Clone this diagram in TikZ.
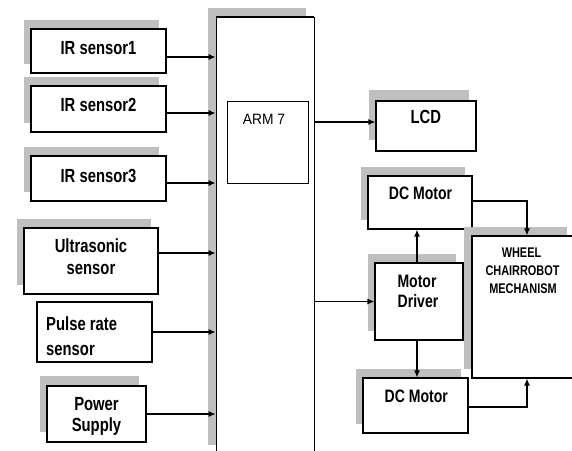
\documentclass[tikz,border=0pt]{standalone}
\usepackage{fontspec}
\setmainfont{Liberation Sans}[FakeStretch=0.78]
\newfontfamily\armfont{Liberation Sans}[FakeStretch=0.92]
\usetikzlibrary{arrows.meta,shadows}
\begin{document}
\begin{tikzpicture}[x=1pt,y=-1pt,
  box/.style={draw=black, line width=1.1pt, fill=white, rectangle, inner sep=0pt},
  shbox/.style={box, general shadow={fill=black!25, draw=none, shadow xshift=-7pt, shadow yshift=9pt}},
  lbl/.style={font=\bfseries\fontsize{19}{21}\selectfont, anchor=base, inner sep=0pt},
  mlbl/.style={font=\bfseries\fontsize{18}{20}\selectfont, anchor=base, inner sep=0pt},
  slbl/.style={font=\bfseries\fontsize{14}{16}\selectfont, anchor=base, inner sep=0pt},
  arr/.style={-{Latex[length=7pt,width=6pt]}, line width=1.2pt}]
\clip (0,0) rectangle (572,450);
\fill[white] (0,0) rectangle (572,450);

% central bar
\node[box, line width=0.8pt, general shadow={fill=black!25, draw=none, shadow xshift=-8pt, shadow yshift=9pt},
  minimum width=98pt, minimum height=437pt] (bar) at (265,235.5) {};
\draw[line width=1.6pt] (bar.north west) -- (bar.north east);
\node[box, line width=0.6pt, minimum width=81pt, minimum height=82pt] (arm) at (267.5,142) {};
\node[font=\armfont\fontsize{15}{17}\selectfont, anchor=base, inner sep=0pt] (armt) at (264,124) {ARM 7};

% sensors
\node[shbox, minimum width=135pt, minimum height=44pt] (ir1) at (98.5,51) {};
\node[shbox, minimum width=135pt, minimum height=46pt] (ir2) at (98.5,109) {};
\node[shbox, minimum width=135pt, minimum height=45pt] (ir3) at (98.5,178.5) {};
\node[shbox, minimum width=134pt, minimum height=66pt] (ultra) at (91,261) {};
\node[box, minimum width=115pt, minimum height=60pt] (pulse) at (94.5,332) {};
\node[box, general shadow={fill=black!25, draw=none, shadow xshift=-7pt, shadow yshift=10pt},
  minimum width=99pt, minimum height=56pt] (power) at (96.5,414) {};

\node[lbl] (t1) at (98.5,54.3) {IR sensor1};
\node[lbl] (t2) at (98.5,111) {IR sensor2};
\node[lbl] (t3) at (98.5,182) {IR sensor3};
\node[lbl] (tu1) at (91,252) {Ultrasonic};
\node[lbl] (tu2) at (91,274) {sensor};
\node[lbl, anchor=base west] (tp1) at (46,330) {Pulse rate};
\node[lbl, anchor=base west] (tp2) at (46,355) {sensor};
\node[lbl] (tw1) at (96.5,410) {Power};
\node[lbl] (tw2) at (96.5,431) {Supply};

% outputs
\node[box, general shadow={fill=black!25, draw=none, shadow xshift=-7pt, shadow yshift=11pt},
  minimum width=100pt, minimum height=50pt] (lcd) at (426,126) {};
\node[shbox, minimum width=104pt, minimum height=53pt] (dc1) at (420,202.5) {};
\node[shbox, minimum width=88pt, minimum height=77pt] (drv) at (419,301.5) {};
\node[shbox, minimum width=105pt, minimum height=55pt] (dc2) at (415.5,405.5) {};
\node[box, general shadow={fill=black!25, draw=none, shadow xshift=-8pt, shadow yshift=9pt},
  minimum width=103pt, minimum height=142pt] (wheel) at (523.5,307) {};

\node[lbl] (tl) at (425.8,123) {LCD};
\node[mlbl] (td1) at (420.5,199) {DC Motor};
\node[mlbl] (tm1) at (417,287) {Motor};
\node[mlbl] (tm2) at (418,307) {Driver};
\node[mlbl] (td2) at (416.3,402) {DC Motor};
\node[slbl] (tk1) at (521.5,257) {WHEEL};
\node[slbl] (tk2) at (522.5,275) {CHAIRROBOT};
\node[slbl] (tk3) at (523,293) {MECHANISM};

% input arrows
\draw[arr] ([yshift=-6pt]ir1.east) -- ([yshift=-6pt]ir1.east -| bar.west);
\draw[arr] ([yshift=-4pt]ir2.east) -- ([yshift=-4pt]ir2.east -| bar.west);
\draw[arr] ([yshift=-4.5pt]ir3.east) -- ([yshift=-4.5pt]ir3.east -| bar.west);
\draw[arr] ([yshift=8pt]ultra.east) -- ([yshift=8pt]ultra.east -| bar.west);
\draw[arr] (pulse.east) -- (pulse.east -| bar.west);
\draw[arr] (power.east) -- (power.east -| bar.west);

% output arrows
\coordinate (lcdin) at ([yshift=4pt]lcd.west);
\draw[arr] (bar.east |- lcdin) -- (lcdin);
\draw[arr] (bar.east |- drv.west) -- (drv.west);
\draw[arr] ([xshift=-2pt]drv.north) -- ([xshift=-2pt]drv.north |- dc1.south);
\draw[arr] ([xshift=-2pt]drv.south) -- ([xshift=-2pt]drv.south |- dc2.north);
\coordinate (wtop) at ([xshift=3.5pt]wheel.north);
\coordinate (wbot) at ([xshift=3.5pt]wheel.south);
\draw[arr] ([yshift=1.5pt]dc1.east) -| (wtop);
\draw[arr] ([yshift=-1.5pt]dc2.east) -| (wbot);
\end{tikzpicture}
\end{document}
